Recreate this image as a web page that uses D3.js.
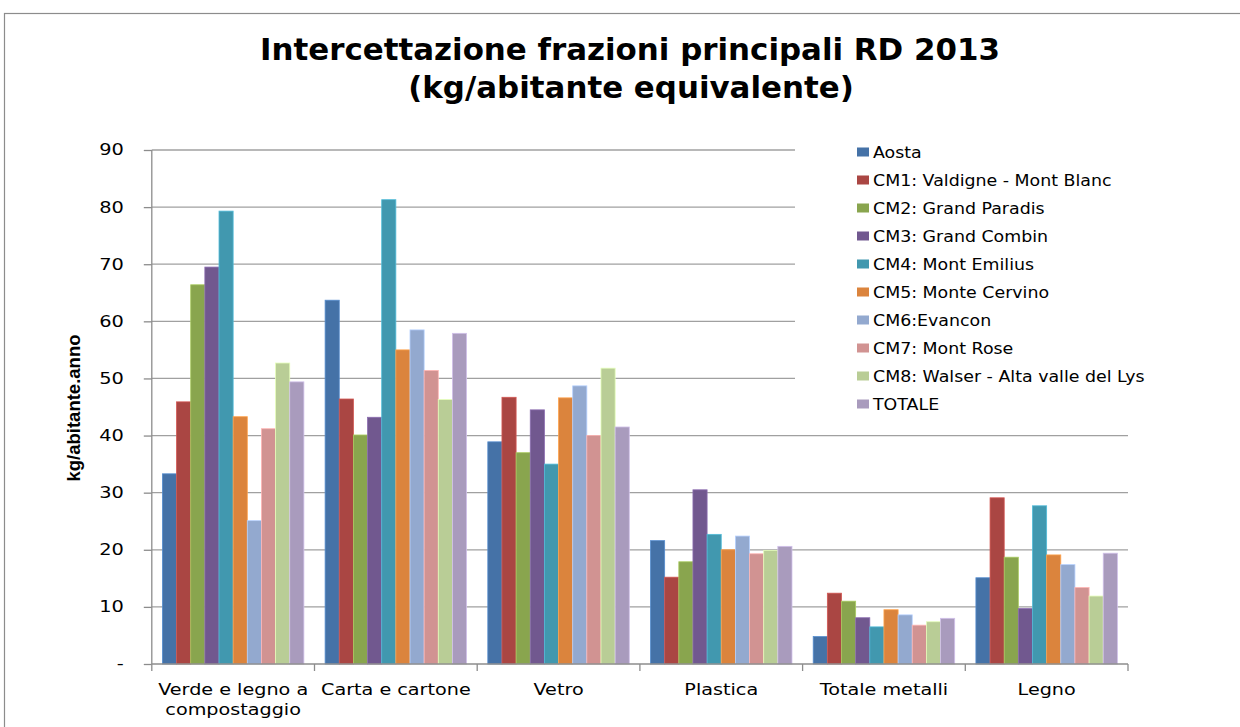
<!DOCTYPE html>
<html><head><meta charset="utf-8">
<script src="https://cdn.jsdelivr.net/npm/d3@7"></script>
<style>body{margin:0;background:#fff}svg{display:block}</style>
</head><body>
<svg id="c" width="1240" height="727"></svg>
<script>
const categories = ["Verde e legno a compostaggio","Carta e cartone","Vetro","Plastica","Totale metalli","Legno"];
const seriesNames = ["Aosta","CM1: Valdigne - Mont Blanc","CM2: Grand Paradis","CM3: Grand Combin","CM4: Mont Emilius","CM5: Monte Cervino","CM6:Evancon","CM7: Mont Rose","CM8: Walser - Alta valle del Lys","TOTALE"];
const aosta  = [33.3, 63.7, 38.9, 21.6, 4.8, 15.1];
const cm1    = [45.9, 46.4, 46.7, 15.2, 12.4, 29.1];
const cm2    = [66.4, 40.1, 37.0, 17.9, 11.0, 18.7];
const cm3    = [69.5, 43.2, 44.5, 30.5, 8.1, 9.7];
const cm4    = [79.3, 81.3, 35.0, 22.7, 6.5, 27.7];
const cm5    = [43.3, 55.0, 46.6, 20.0, 9.5, 19.1];
const cm6    = [25.1, 58.5, 48.7, 22.4, 8.6, 17.4];
const cm7    = [41.2, 51.4, 40.0, 19.3, 6.8, 13.4];
const cm8    = [52.7, 46.3, 51.8, 19.9, 7.4, 11.9];
const totale = [49.4, 57.9, 41.5, 20.6, 8.0, 19.4];
const yTicks = [0,10,20,30,40,50,60,70,80,90];
const colors = ["#4572A7","#AA4643","#89A54E","#71588F","#4198AF","#DB843D","#93A9CF","#D19392","#B9CD96","#A99BBD"];
const seriesValues = [aosta,cm1,cm2,cm3,cm4,cm5,cm6,cm7,cm8,totale];

const svg = d3.select("#c");
const F = "'DejaVu Sans', Verdana, sans-serif";
const pL = 151.8, pR = 1128, pT = 150, pB = 664;

// horizontally stretched text helper
function stext(parent, x, y, str, size, sx, anchor, weight, family){
  return parent.append("text")
    .attr("transform",`translate(${x},${y}) scale(${sx},1)`)
    .attr("text-anchor",anchor||"start")
    .attr("font-family",family||F).attr("font-size",size)
    .attr("font-weight",weight||"normal").attr("fill","#000").text(str);
}

// outer border
svg.append("rect").attr("x",4.5).attr("y",13.5).attr("width",1300).attr("height",800)
  .attr("fill","none").attr("stroke","#8c8c8c").attr("stroke-width",1.2);

// title
stext(svg,630,60,"Intercettazione frazioni principali RD 2013",30,1.03,"middle","bold");
stext(svg,631,98,"(kg/abitante equivalente)",30,1.03,"middle","bold");

const x0 = d3.scaleBand().domain(categories).range([pL,pR]).padding(0);
const bw = x0.bandwidth();
const barW = bw/11.5;
const x1 = d3.scaleBand().domain(seriesNames).range([barW*0.75, bw-barW*0.75]).padding(0);
const y = d3.scaleLinear().domain([0,90]).range([pB,pT]);

// gridlines
svg.append("g").selectAll("line").data(yTicks.filter(d=>d>0)).join("line")
  .attr("x1",pL).attr("x2",pR).attr("y1",d=>y(d)).attr("y2",d=>y(d))
  .attr("stroke","#a0a0a0").attr("stroke-width",1.3);

// bars
const g = svg.append("g");
seriesValues.forEach((vals,si)=>{
  g.append("g").selectAll("rect").data(vals).join("rect")
    .attr("x",(d,i)=>x0(categories[i])+x1(seriesNames[si]))
    .attr("y",d=>y(d)).attr("width",x1.bandwidth()).attr("height",d=>y(0)-y(d))
    .attr("fill",colors[si])
    .attr("stroke",d3.color(colors[si]).brighter(0.6)).attr("stroke-width",0.8);
});

// y axis
const yAxis = d3.axisLeft(y).tickValues(yTicks).tickSize(8).tickPadding(18)
  .tickFormat(d=>d===0?"-":d);
const ya = svg.append("g").attr("transform",`translate(${pL},0)`).call(yAxis);
ya.select(".domain").attr("stroke","#8c8c8c").attr("stroke-width",1.3).attr("d",`M0,${pT}V${pB}`);
ya.selectAll(".tick line").attr("stroke","#8c8c8c").attr("stroke-width",1.3);
ya.selectAll(".tick text").attr("font-family",F).attr("font-size",15.5).attr("fill","#000")
  .attr("x",0).attr("transform","translate(-28,0) scale(1.25,1)");

// x axis
const xa = svg.append("g").attr("transform",`translate(0,${pB})`);
xa.append("line").attr("x1",pL).attr("x2",pR).attr("stroke","#8c8c8c").attr("stroke-width",1.3);
const bounds = categories.map(c=>x0(c)).concat([pR]);
xa.selectAll("line.t").data(bounds).join("line").attr("class","t")
  .attr("x1",d=>d).attr("x2",d=>d).attr("y1",0).attr("y2",7).attr("stroke","#8c8c8c").attr("stroke-width",1.3);
const xLabels = [["Verde e legno a","compostaggio"],["Carta e cartone"],["Vetro"],["Plastica"],["Totale metalli"],["Legno"]];
categories.forEach((c,i)=>{
  xLabels[i].forEach((line,j)=>stext(xa, x0(c)+bw/2, 31+j*20, line, 16, 1.2, "middle"));
});

// y title
svg.append("text").attr("transform","translate(80,408) rotate(-90)").attr("text-anchor","middle")
  .attr("font-family","'Liberation Sans Narrow','Liberation Sans', Arial, sans-serif").attr("font-weight","bold")
  .attr("font-size",18.5).attr("fill","#000").text("kg/abitante.anno");

// legend
const lg = svg.append("g");
lg.append("rect").attr("x",795).attr("y",138).attr("width",360).attr("height",282).attr("fill","#fff");
seriesNames.forEach((n,i)=>{
  const yy = 152 + i*28;
  lg.append("rect").attr("x",857).attr("y",yy-4.5).attr("width",12).attr("height",9).attr("fill",colors[i]);
  stext(lg, 873, yy+5.5, n, 15, 1.16, "start");
});
</script>
</body></html>
